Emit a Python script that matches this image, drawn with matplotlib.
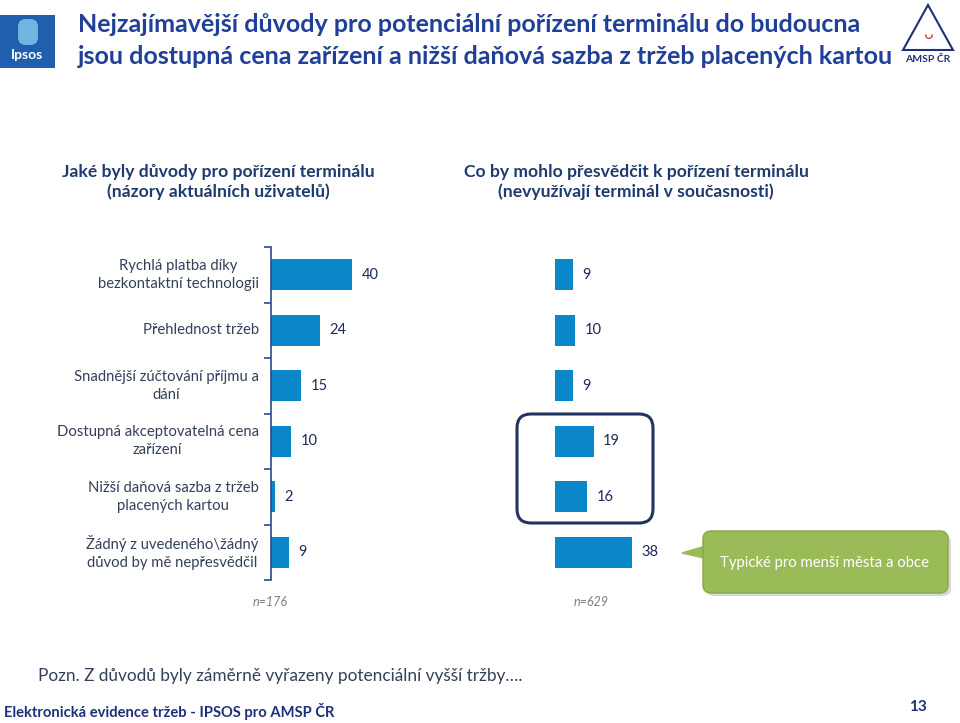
import matplotlib
matplotlib.use("Agg")
import matplotlib.pyplot as plt
from matplotlib.patches import FancyBboxPatch, Polygon, Rectangle

plt.rcParams["font.family"] = ["Lato", "Open Sans", "DejaVu Sans"]

# data
categories = [
    "Rychlá platba díky\nbezkontaktní technologii",
    "Přehlednost tržeb",
    "Snadnější zúčtování příjmu a\ndání",
    "Dostupná akceptovatelná cena\nzařízení",
    "Nižší daňová sazba z tržeb\nplacených kartou",
    "Žádný z uvedeného\\žádný\ndůvod by mě nepřesvědčil",
]
current_users = [40, 24, 15, 10, 2, 9]
non_users = [9, 10, 9, 19, 16, 38]
n_labels = ["n=176", "n=629"]

W, H = 960, 723
BAR = "#0A87C9"
NAVY = "#1F2A5C"
LABEL = "#34405A"

fig = plt.figure(figsize=(W / 100, H / 100), dpi=100)

# overlay in pixel coords for decorations
ov = fig.add_axes([0, 0, 1, 1])
ov.set_xlim(0, W)
ov.set_ylim(H, 0)
ov.axis("off")


def ax_rect(x0, y0, x1, y1):
    return [x0 / W, 1 - y1 / H, (x1 - x0) / W, (y1 - y0) / H]


scale = 2.03  # px per unit
top, bottom = 247, 580
axL = fig.add_axes(ax_rect(271, top, 271 + 230, bottom))
axR = fig.add_axes(ax_rect(555, top, 555 + 230, bottom))
for ax in (axL, axR):
    ax.set_xlim(0, 230 / scale)
    ax.set_ylim(len(categories) - 0.5, -0.5)
    ax.patch.set_visible(False)
    for s in ("top", "right", "bottom"):
        ax.spines[s].set_visible(False)
    ax.set_xticks([])

ypos = range(len(categories))
axL.barh(ypos, current_users, height=0.55, color=BAR)
axR.barh(ypos, non_users, height=0.55, color=BAR)
for y, v in zip(ypos, current_users):
    axL.text(v + 4.5, y, str(v), va="center", ha="left", fontsize=10.5, color=NAVY)
for y, v in zip(ypos, non_users):
    axR.text(v + 4.5, y, str(v), va="center", ha="left", fontsize=10.5, color=NAVY)

axL.spines["left"].set_color("#2A4A8A")
axL.spines["left"].set_linewidth(1.2)
axL.set_yticks([i - 0.5 for i in range(len(categories) + 1)])
axL.set_yticklabels([])
axL.tick_params(axis="y", length=5, width=1.2, color="#2A4A8A", direction="out")
for y, c in zip(ypos, categories):
    axL.text(-6, y, c, ha="right", va="center", fontsize=10.7, color=LABEL,
             linespacing=1.4, multialignment="center")
axR.spines["left"].set_visible(False)
axR.set_yticks([])

# highlight box around 19 and 16
ov.add_patch(FancyBboxPatch((517, 414), 136, 109,
                            boxstyle="round,pad=0,rounding_size=14",
                            fill=False, edgecolor="#1F3560", linewidth=2.2))

# n labels
ov.text(270, 602, n_labels[0], ha="center", va="center", fontsize=9,
        style="italic", color="#7F7F7F")
ov.text(591, 602, n_labels[1], ha="center", va="center", fontsize=9,
        style="italic", color="#7F7F7F")

# callout
shadow = FancyBboxPatch((706, 534), 245, 62, boxstyle="round,pad=0,rounding_size=8",
                        facecolor="#D9D9D9", edgecolor="none")
ov.add_patch(shadow)
ov.add_patch(Polygon([[712, 544], [682, 553], [712, 560]], closed=True,
                     facecolor="#9BBB59", edgecolor="#9BBB59"))
ov.add_patch(FancyBboxPatch((703, 531), 245, 62, boxstyle="round,pad=0,rounding_size=8",
                            facecolor="#9BBB59", edgecolor="#86A84A", linewidth=1))
ov.text(825, 563, "Typické pro menší města a obce", ha="center", va="center",
        fontsize=10.7, color="white")

# title
ov.text(78, 25, "Nejzajímavější důvody pro potenciální pořízení terminálu do budoucna",
        fontsize=18, fontweight="bold", color="#1F3F99", va="center", ha="left")
ov.text(78, 56, "jsou dostupná cena zařízení a nižší daňová sazba z tržeb placených kartou",
        fontsize=18, fontweight="bold", color="#1F3F99", va="center", ha="left")

# subtitles
ov.text(218, 182, "Jaké byly důvody pro pořízení terminálu\n(názory aktuálních uživatelů)",
        ha="center", va="center", fontsize=12.6, fontweight="bold", color="#1E3A6E",
        linespacing=1.3)
ov.text(636, 182, "Co by mohlo přesvědčit k pořízení terminálu\n(nevyužívají terminál v současnosti)",
        ha="center", va="center", fontsize=12.6, fontweight="bold", color="#1E3A6E",
        linespacing=1.3)

# note and footer
ov.text(38, 676, "Pozn. Z důvodů byly záměrně vyřazeny potenciální vyšší tržby….",
        ha="left", va="center", fontsize=12.4, color="#34405A")
ov.text(4, 712, "Elektronická evidence tržeb - IPSOS pro AMSP ČR",
        ha="left", va="center", fontsize=10.6, fontweight="bold", color="#1F2F7A")
ov.text(918, 707, "13", ha="center", va="center", fontsize=11, fontweight="bold",
        color="#1F2F7A")

# logos (simplified)
ov.add_patch(Rectangle((0, 15), 55, 53, facecolor="#1F5FAD", edgecolor="none"))
ov.add_patch(FancyBboxPatch((18, 19), 20, 26, boxstyle="round,pad=0,rounding_size=8",
                            facecolor="#6FB6E0", edgecolor="none"))
ov.text(27, 55, "Ipsos", ha="center", va="center", fontsize=10, color="white",
        fontweight="bold")
ov.add_patch(Polygon([[928, 5], [903, 50], [953, 50]], closed=True, fill=False,
                     edgecolor="#1F2F7A", linewidth=1.5))
ov.text(928, 34, "ᴗ", ha="center", va="center", fontsize=12, color="#D33")
ov.text(928, 60, "AMSP ČR", ha="center", va="center", fontsize=7.5,
        fontweight="bold", color="#1F2F7A")

fig.savefig("out.png", dpi=100)
